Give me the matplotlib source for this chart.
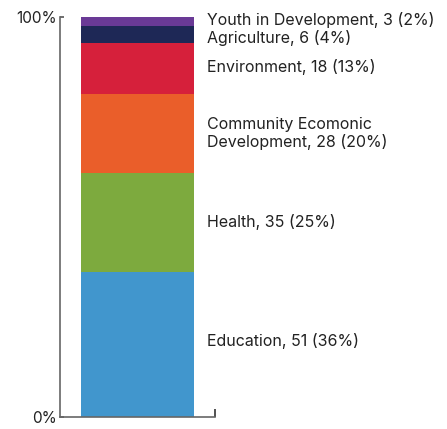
import matplotlib
matplotlib.use('Agg')
import matplotlib.pyplot as plt

# data (bottom to top)
categories = ['Education', 'Health', 'Community Ecomonic\nDevelopment', 'Environment', 'Agriculture', 'Youth in Development']
counts = [51, 35, 28, 18, 6, 3]
percents = [36, 25, 20, 13, 4, 2]
colors = ['#4196CD', '#7DAA3E', '#EA5E2A', '#D6203B', '#1E2856', '#6A3A96']
label_nudge = [0.8, 0.2, 0, 0.3, -1.0, 0.2]  # keep the two small ones apart

plt.rcParams['font.family'] = ['Inter', 'DejaVu Sans']

fig = plt.figure(figsize=(4.47, 4.29), dpi=100)
ax = fig.add_axes([60 / 447, 12 / 429, 155 / 447, 400 / 429])

total = sum(counts)
pad = 21 / 113
bottom = 0
for cat, n, p, c, dy in zip(categories, counts, percents, colors, label_nudge):
    h = n / total * 100
    ax.bar(0, h, width=1, bottom=bottom, color=c, linewidth=0)
    ax.text(0.5 + 13 / 113, bottom + h / 2 + dy, f'{cat}, {n} ({p}%)',
            va='center', ha='left', fontsize=11.5, color='#222222',
            linespacing=1.2, clip_on=False)
    bottom += h

ax.set_xlim(-0.5 - pad, 0.5 + pad)
ax.set_ylim(0, 100)
ax.set_yticks([0, 100])
ax.set_yticklabels(['0%', '100%'], fontsize=11, color='#222222')
ax.set_xticks([0.5 + pad])
ax.set_xticklabels([''])
ax.tick_params(axis='y', direction='in', length=3, width=1.2, color='#555555', pad=2)
ax.tick_params(axis='x', direction='in', length=6, width=1.2, color='#333333')
for s in ['top', 'right']:
    ax.spines[s].set_visible(False)
for s in ['left', 'bottom']:
    ax.spines[s].set_color('#666666')
    ax.spines[s].set_linewidth(1.2)

fig.savefig('out.png', dpi=100)
